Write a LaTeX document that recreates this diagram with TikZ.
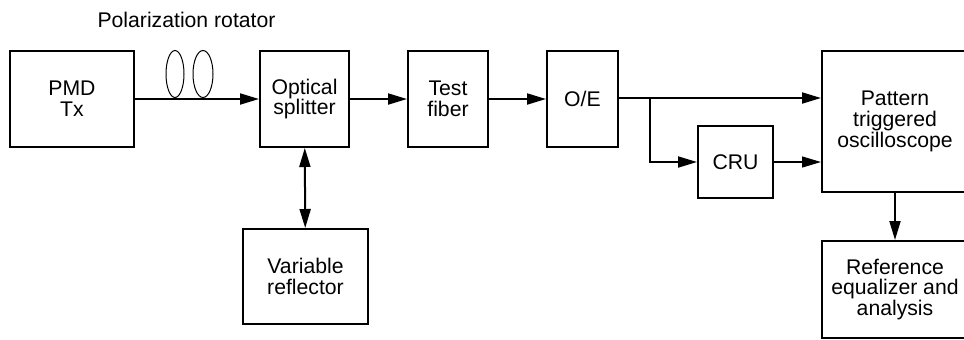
\documentclass[tikz,border=0pt]{standalone}
\usepackage{fontspec}
\setmainfont{Liberation Sans}
\usetikzlibrary{arrows.meta}
\newcommand{\boxfont}{\fontsize{10.6}{10.4}\selectfont}

\begin{document}
\begin{tikzpicture}[->,>={Triangle[length=9.5pt,width=5.5pt]},x=0.5pt,y=-0.5pt,
  line width=1pt,block/.style={rectangle,draw,align=center,font=\boxfont,inner sep=0pt},
  thin line/.style={line width=0.6pt},coil/.style={-,line width=0.5pt}]
  \clip (0,0) rectangle (964,339);

  \node[block,minimum width=62pt,minimum height=48pt] (tx) at (72,99) {PMD\\Tx};
  \node[block,minimum width=44.5pt,minimum height=48pt] (split) at (304.5,99) {Optical\\splitter};
  \node[block,minimum width=40pt,minimum height=48pt] (fiber) at (448,99) {Test\\fiber};
  \node[block,minimum width=35.5pt,minimum height=48pt] (oe) at (582.5,99) {O/E};
  \node[block,minimum width=37.5pt,minimum height=36pt] (cru) at (735.5,162) {CRU};
  \node[block,minimum width=73pt,minimum height=70.5pt] (scope) at (895,121.5) {Pattern\\triggered\\oscilloscope};
  \node[block,minimum width=73pt,minimum height=48.5pt] (ref) at (895,289.5) {Reference\\equalizer and\\analysis};
  \node[block,minimum width=62.5pt,minimum height=47.5pt] (refl) at (305.5,276.5) {Variable\\reflector};
  \node[font=\boxfont,anchor=base] (rot) at (186.5,27) {Polarization rotator};

  \coordinate (coil1) at (175,74);
  \coordinate (coil2) at (203,74);
  \coordinate (br) at (650,98);
  \draw[coil] (coil1) ellipse [x radius=9,y radius=23.5];
  \draw[coil] (coil2) ellipse [x radius=10,y radius=23.5];

  \path
    (tx)    edge (split)
    (split) edge (fiber)
    (fiber) edge (oe)
    (split) edge[<->] (refl)
    (scope) edge (ref);
  \draw (oe.east |- br) -- (br -| scope.west);
  \draw (br) |- (cru.west);
  \draw[thin line] (cru.east) -- (cru.east -| scope.west);
\end{tikzpicture}
\end{document}
